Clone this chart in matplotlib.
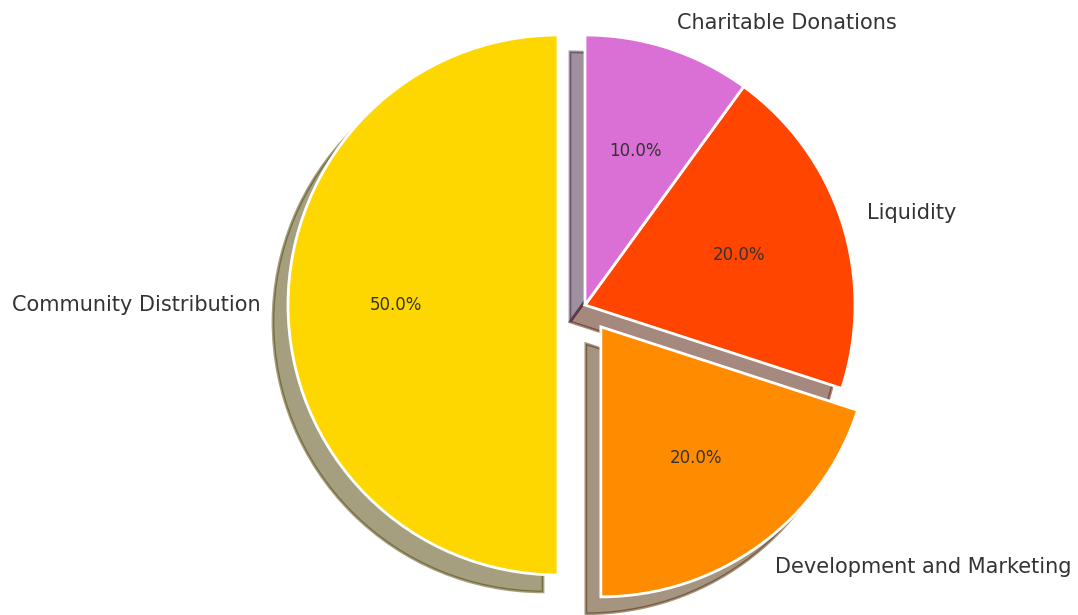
import matplotlib
matplotlib.use("Agg")
import matplotlib.pyplot as plt

labels = ["Community Distribution", "Development and Marketing", "Liquidity", "Charitable Donations"]
sizes = [50, 20, 20, 10]
colors = ["#FFD700", "#FF8C00", "#FF4500", "#DA70D6"]
explode = [0.1, 0.1, 0, 0]

fig = plt.figure(figsize=(10.78, 6.15), dpi=100)
ax = fig.add_axes([0, 0, 1, 1])
wedges, texts, autotexts = ax.pie(
    sizes, labels=labels, colors=colors, explode=explode,
    autopct="%1.1f%%", startangle=90, counterclock=True,
    shadow={"ox": -0.04, "oy": -0.045},
    wedgeprops={"edgecolor": "white", "linewidth": 2},
    textprops={"color": "#333333"},
)
for t in texts:
    t.set_fontsize(15)
for t in autotexts:
    t.set_fontsize(12)

R = 270.0
cx, cy = 585.0, 305.0
W, H = 1078.0, 615.0
ax.set_aspect("auto")
ax.set_xlim(-cx / R, (W - cx) / R)
ax.set_ylim(-(H - cy) / R, cy / R)
ax.axis("off")
fig.savefig("out.png", dpi=100)
